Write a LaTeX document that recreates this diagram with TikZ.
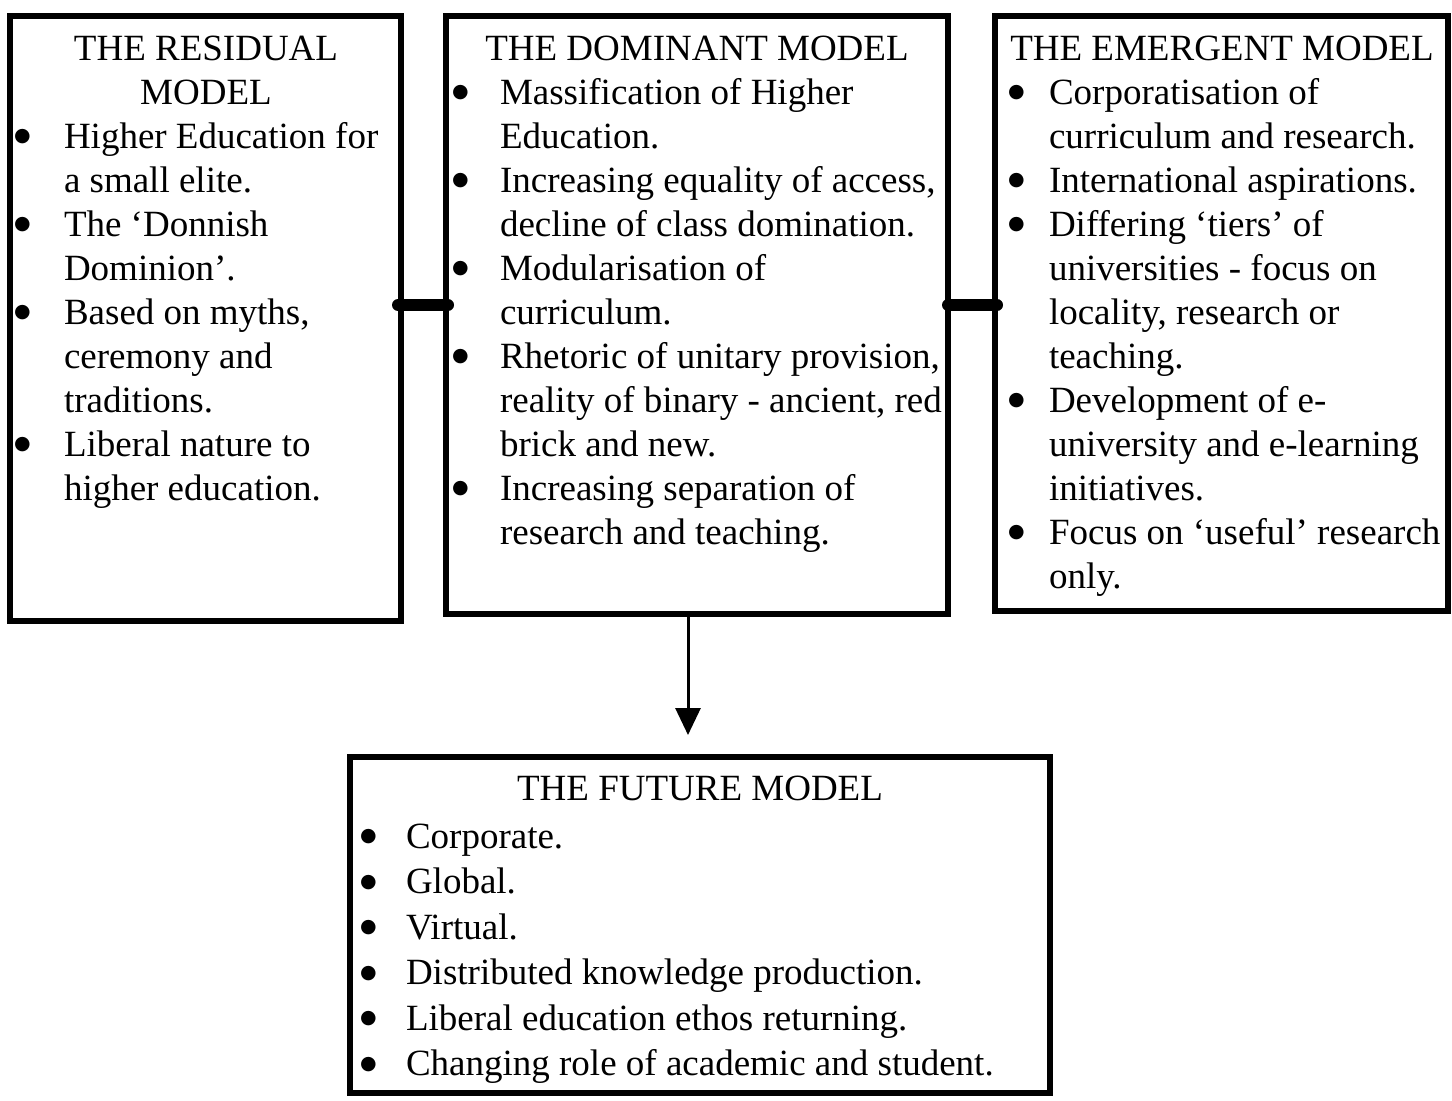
\documentclass[tikz,border=0pt]{standalone}
\usepackage{fontspec}
\setmainfont{Liberation Serif}
\newfontfamily\symfont{DejaVu Sans}
\usetikzlibrary{fit,arrows.meta}
\newcommand{\blt}{\raisebox{3.2pt}{\symfont\fontsize{9.5}{9.5}\selectfont ●}}
\newcommand{\itemlist}[2]{\begin{tabular}[t]{@{}p{#1}@{}l@{}}#2\end{tabular}}
\newcommand{\ttllist}[1]{\begin{tabular}[t]{@{}c@{}}#1\end{tabular}}
\begin{document}
\begin{tikzpicture}[x=0.5pt,y=-0.5pt,
  box/.style={draw, line width=2.75pt, inner sep=0pt, outer sep=0pt},
  txt/.style={inner sep=0pt, outer sep=0pt, anchor=base west, font=\fontsize{18.5}{22}\selectfont},
  ftxt/.style={inner sep=0pt, outer sep=0pt, anchor=base west, font=\fontsize{18.5}{22.75}\selectfont},
  ttl/.style={inner sep=0pt, outer sep=0pt, anchor=base, font=\fontsize{18.5}{22}\selectfont},
  bar/.style={line width=6pt, line cap=round},
  arr/.style={line width=1.5pt, -{Triangle[length=13.5pt,width=12.5pt]}}]
\useasboundingbox (0,0) rectangle (1452,1100);

% boxes
\node[box, fit={(10,16) (401,621)}] (res) {};
\node[box, fit={(446,16) (948,614)}] (dom) {};
\node[box, fit={(995,16) (1448,611)}] (emg) {};
\node[box, fit={(350,757) (1050,1093)}] (fut) {};

% titles
\node[ttl] (rest) at (206,60) {\ttllist{THE RESIDUAL\\ MODEL}};
\node[ttl] (domt) at (697,60) {THE DOMINANT MODEL};
\node[ttl] (emgt) at (1222,60) {THE EMERGENT MODEL};
\node[ttl] (futt) at (700,800) {THE FUTURE MODEL};

% lists
\node[txt] (resl) at (14,148) {\itemlist{25pt}{%
\blt & Higher Education for\\
     & a small elite.\\
\blt & The ‘Donnish\\
     & Dominion’.\\
\blt & Based on myths,\\
     & ceremony and\\
     & traditions.\\
\blt & Liberal nature to\\
     & higher education.}};

\node[txt] (doml) at (452,104) {\itemlist{24pt}{%
\blt & Massification of Higher\\
     & Education.\\
\blt & Increasing equality of access,\\
     & decline of class domination.\\
\blt & Modularisation of\\
     & curriculum.\\
\blt & Rhetoric of unitary provision,\\
     & reality of binary - ancient, red\\
     & brick and new.\\
\blt & Increasing separation of\\
     & research and teaching.}};

\node[txt] (emgl) at (1008,104) {\itemlist{20.5pt}{%
\blt & Corporatisation of\\
     & curriculum and research.\\
\blt & International aspirations.\\
\blt & Differing ‘tiers’ of\\
     & universities - focus on\\
     & locality, research or\\
     & teaching.\\
\blt & Development of e-\\
     & university and e-learning\\
     & initiatives.\\
\blt & Focus on ‘useful’ research\\
     & only.}};

\node[ftxt] (futl) at (360,848) {\itemlist{23pt}{%
\blt & Corporate.\\
\blt & Global.\\
\blt & Virtual.\\
\blt & Distributed knowledge production.\\
\blt & Liberal education ethos returning.\\
\blt & Changing role of academic and student.}};

% connectors
\draw[bar] ([xshift=-1.5pt,yshift=6.75pt]res.east) -- ([xshift=1pt,yshift=5pt]dom.west);
\draw[bar] ([yshift=5pt]dom.east) -- ([xshift=1pt,yshift=4.25pt]emg.west);
\draw[arr, shorten >=11pt] ([xshift=-4.5pt]dom.south) -- ([xshift=-4.5pt]dom.south |- fut.north);
\end{tikzpicture}
\end{document}
